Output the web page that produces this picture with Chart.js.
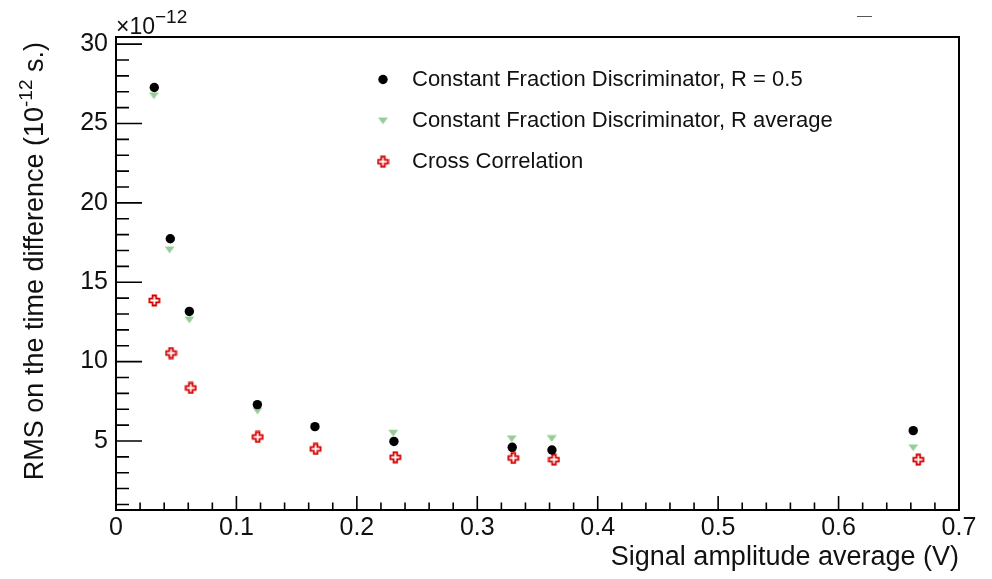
<!DOCTYPE html>
<html><head><meta charset="utf-8">
<script src="https://cdn.jsdelivr.net/npm/chart.js@4/dist/chart.umd.min.js"></script>
<style>html,body{margin:0;padding:0;background:#fff}canvas{display:block}</style>
</head><body>
<canvas id="c" width="992" height="579"></canvas>
<script>
// ---- data ----
const seriesNames = ['Constant Fraction Discriminator, R = 0.5', 'Constant Fraction Discriminator, R average', 'Cross Correlation'];
const xCFD    = [0.0318, 0.0451, 0.0609, 0.1174, 0.1652, 0.2308, 0.3290, 0.3620, 0.6620];
const yCFD    = [27.27, 17.74, 13.16, 7.29, 5.90, 4.97, 4.60, 4.43, 5.65];
const xCFDavg = [0.0315, 0.0445, 0.0609, 0.1174, 0.2302, 0.3286, 0.3618, 0.6620];
const yCFDavg = [26.76, 17.05, 12.64, 6.90, 5.50, 5.15, 5.16, 4.58];
const xCC     = [0.0318, 0.0457, 0.0621, 0.1177, 0.1658, 0.2319, 0.3299, 0.3637, 0.6662];
const yCC     = [13.85, 10.54, 8.34, 5.25, 4.50, 3.97, 3.93, 3.82, 3.82];
const xTickValues = [0, 0.1, 0.2, 0.3, 0.4, 0.5, 0.6, 0.7];
const xTickLabels = ['0', '0.1', '0.2', '0.3', '0.4', '0.5', '0.6', '0.7'];
const yTickValues = [5, 10, 15, 20, 25, 30];
const yTickLabels = ['5', '10', '15', '20', '25', '30'];
const xTitle = 'Signal amplitude average (V)';
const yTitleParts = ['RMS on the time difference (10', '-12', ' s.)'];
const expParts = ['\u00d710', '\u221212'];

const FONT = '"Liberation Sans", Arial, Helvetica, sans-serif';
const TEXT = '#111';
const GREEN = 'rgb(150,205,150)';
const RED = '#d40000';

function makeCross() {
  const c = document.createElement('canvas'); c.width = 13; c.height = 13;
  const g = c.getContext('2d');
  const m = 6.5, o = 5, w = 1.8;
  g.beginPath();
  g.moveTo(m - w, m - o); g.lineTo(m + w, m - o); g.lineTo(m + w, m - w); g.lineTo(m + o, m - w);
  g.lineTo(m + o, m + w); g.lineTo(m + w, m + w); g.lineTo(m + w, m + o); g.lineTo(m - w, m + o);
  g.lineTo(m - w, m + w); g.lineTo(m - o, m + w); g.lineTo(m - o, m - w); g.lineTo(m - w, m - w);
  g.closePath();
  g.fillStyle = '#fff'; g.fill();
  g.strokeStyle = RED; g.lineWidth = 1.8; g.lineJoin = 'miter'; g.stroke();
  return c;
}
function makeTri() {
  const c = document.createElement('canvas'); c.width = 11; c.height = 8;
  const g = c.getContext('2d');
  g.beginPath(); g.moveTo(0.5, 0.8); g.lineTo(10.5, 0.8); g.lineTo(5.5, 7.6); g.closePath();
  g.fillStyle = GREEN; g.fill();
  return c;
}
const crossImg = makeCross();
const triImg = makeTri();

const styles = [
  {pointStyle: 'circle', radius: 4.7, rotation: 0, borderWidth: 0, color: '#000'},
  {pointStyle: triImg, radius: 5, rotation: 0, borderWidth: 0, color: GREEN},
  {pointStyle: crossImg, radius: 6, rotation: 0, borderWidth: 0, color: RED}
];

const rootStyle = {
  id: 'rootStyle',
  afterDraw(chart) {
    const ctx = chart.ctx, a = chart.chartArea, xs = chart.scales.x, ys = chart.scales.y;
    ctx.save();
    ctx.strokeStyle = '#000'; ctx.lineWidth = 1.6;
    ctx.beginPath();
    for (let i = 0; i <= 35; i++) {
      const px = xs.getPixelForValue(i * 0.02);
      const len = (i % 5 === 0) ? 14 : 7.5;
      ctx.moveTo(px, a.bottom); ctx.lineTo(px, a.bottom - len);
    }
    for (let v = 1; v <= 30; v++) {
      const py = ys.getPixelForValue(v);
      const len = (v % 5 === 0) ? 26 : 13;
      ctx.moveTo(a.left, py); ctx.lineTo(a.left + len, py);
    }
    ctx.stroke();
    ctx.lineWidth = 2;
    ctx.strokeRect(a.left, a.top, a.right - a.left, a.bottom - a.top);

    // small dash at top right
    ctx.strokeStyle = '#555'; ctx.lineWidth = 1;
    ctx.beginPath(); ctx.moveTo(857, 16.5); ctx.lineTo(872, 16.5); ctx.stroke();

    ctx.fillStyle = TEXT;
    // x title
    ctx.font = '27px ' + FONT; ctx.textAlign = 'right'; ctx.textBaseline = 'alphabetic';
    ctx.fillText(xTitle, a.right, 565);

    // y title (rotated, with superscript)
    ctx.save();
    ctx.translate(43, 42); ctx.rotate(-Math.PI / 2);
    ctx.textAlign = 'left';
    ctx.font = '27px ' + FONT; const w0 = ctx.measureText(yTitleParts[0]).width; const w2 = ctx.measureText(yTitleParts[2]).width;
    ctx.font = '19px ' + FONT; const w1 = ctx.measureText(yTitleParts[1]).width;
    let x0 = -(w0 + w1 + w2);
    ctx.font = '27px ' + FONT; ctx.fillText(yTitleParts[0], x0, 0);
    ctx.font = '19px ' + FONT; ctx.fillText(yTitleParts[1], x0 + w0, -11);
    ctx.font = '27px ' + FONT; ctx.fillText(yTitleParts[2], x0 + w0 + w1, 0);
    ctx.restore();

    // exponent label
    ctx.textAlign = 'left';
    ctx.font = '23px ' + FONT; ctx.fillText(expParts[0], a.left, 34);
    const we = ctx.measureText(expParts[0]).width;
    ctx.font = '19px ' + FONT; ctx.fillText(expParts[1], a.left + we, 23);

    // legend
    const ly = [79.5, 120.7, 161.7];
    ctx.font = '22px ' + FONT; ctx.textBaseline = 'middle';
    for (let i = 0; i < 3; i++) {
      const s = styles[i];
      ctx.fillStyle = s.color; ctx.strokeStyle = s.color;
      Chart.helpers.drawPoint(ctx, {pointStyle: s.pointStyle, radius: s.radius, rotation: s.rotation, borderWidth: 0}, 383, ly[i]);
      ctx.fillStyle = TEXT;
      ctx.fillText(seriesNames[i], 412, ly[i]);
    }
    ctx.restore();
  }
};

function pts(xa, ya) { return xa.map((x, i) => ({x: x, y: ya[i]})); }
function ds(i, data) {
  const s = styles[i];
  return {label: seriesNames[i], data: data, pointStyle: s.pointStyle, pointRadius: s.radius,
    pointRotation: s.rotation, backgroundColor: s.color, borderColor: s.color, pointBorderWidth: 0, showLine: false};
}

new Chart(document.getElementById('c'), {
  type: 'scatter',
  data: {datasets: [ds(0, pts(xCFD, yCFD)), ds(1, pts(xCFDavg, yCFDavg)), ds(2, pts(xCC, yCC))]},
  options: {
    responsive: false, animation: false, events: [],
    plugins: {legend: {display: false}, tooltip: {enabled: false}},
    layout: {padding: {top: 37, right: 33, left: 0, bottom: 0}},
    scales: {
      x: {
        type: 'linear', min: 0, max: 0.7,
        afterFit(s) { s.height = 69; },
        afterBuildTicks(s) { s.ticks = xTickValues.map(v => ({value: v})); },
        ticks: {callback: (v, i) => xTickLabels[i], font: {family: FONT, size: 25}, color: TEXT, padding: 3, maxRotation: 0, autoSkip: false},
        grid: {display: false, drawTicks: false}, border: {display: false}
      },
      y: {
        type: 'linear', min: 0.65, max: 30.45,
        afterFit(s) { s.width = 116; },
        afterBuildTicks(s) { s.ticks = yTickValues.map(v => ({value: v})); },
        ticks: {callback: (v, i) => yTickLabels[i], font: {family: FONT, size: 25}, color: TEXT, padding: 8, autoSkip: false},
        grid: {display: false, drawTicks: false}, border: {display: false}
      }
    }
  },
  plugins: [rootStyle]
});
</script>
</body></html>
